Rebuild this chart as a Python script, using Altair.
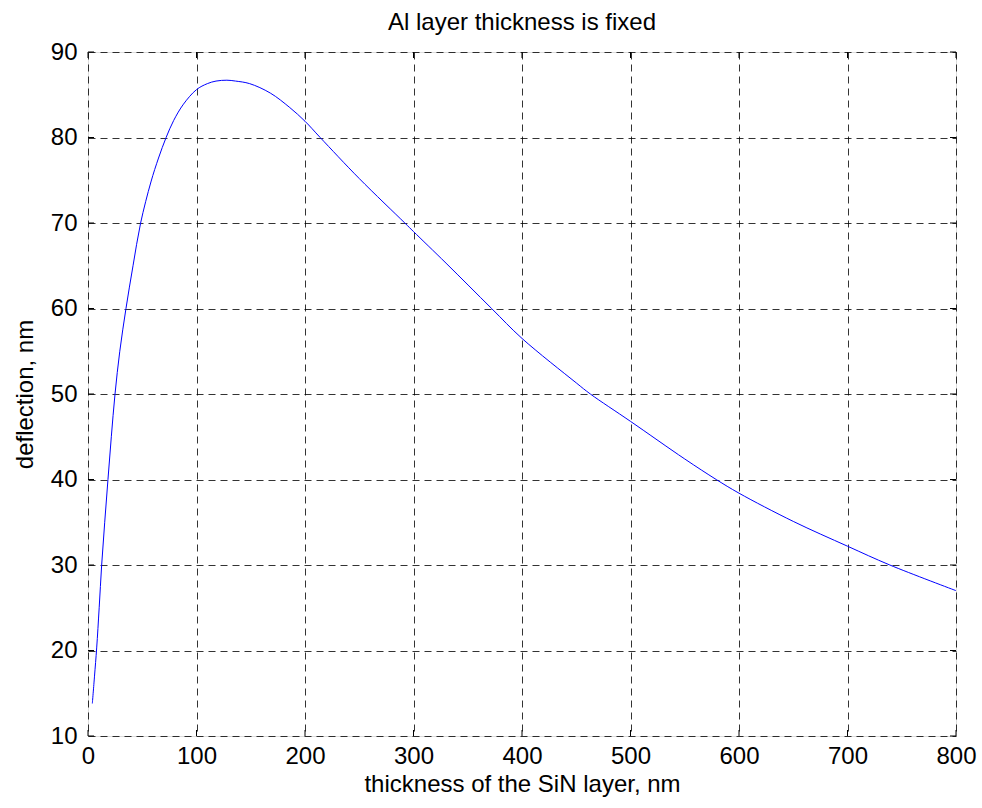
import altair as alt
import pandas as pd

# SiN layer thickness (nm) and resulting deflection (nm)
thickness = [4, 6, 8, 10.3, 12.6, 15.4, 18.4, 21.5, 24.9, 29.3, 35, 41.5, 48.5, 58,
             65, 72, 79, 88, 100, 110, 118, 128, 136, 149, 168, 186, 200, 214, 250,
             292, 300, 330, 372, 400, 450, 463, 500, 550, 579, 600, 650, 700, 739, 800]
deflection = [13.8, 17, 20.3, 25, 30, 35, 40, 45, 50, 55, 60, 65, 70, 74.8,
              77.6, 80, 82, 83.9, 85.6, 86.3, 86.6, 86.7, 86.6, 86.3, 85.2, 83.5, 81.9, 80, 75.2,
              70, 69.0, 65.3, 60, 56.5, 51.3, 50, 46.8, 42.4, 40, 38.4, 35.1, 32.2, 30, 27.0]

x_ticks = [0, 100, 200, 300, 400, 500, 600, 700, 800]
y_ticks = [10, 20, 30, 40, 50, 60, 70, 80, 90]

title_text = "Al layer thickness is fixed"
x_title = "thickness of the SiN layer, nm"
y_title = "deflection, nm"

FONT = "Liberation Sans"
FS = 24
W, H = 868, 684

df = pd.DataFrame({"thickness": thickness, "deflection": deflection})
xt = pd.DataFrame({"v": x_ticks})
yt = pd.DataFrame({"v": y_ticks})

xscale = alt.Scale(domain=[0, 800], nice=False, zero=False)
yscale = alt.Scale(domain=[10, 90], nice=False, zero=False)

line = alt.Chart(df).mark_line(color="#0000ff", strokeWidth=1, interpolate="catmull-rom").encode(
    x=alt.X("thickness:Q", scale=xscale,
            axis=alt.Axis(values=x_ticks, grid=True, gridDash=[7, 5], gridColor="#000000",
                          gridOpacity=0.8, gridWidth=1, ticks=False, domain=False,
                          labelFontSize=FS, labelFont=FONT, labelColor="#000000",
                          labelPadding=8, labelFlush=False,
                          title=x_title, titleFontSize=FS, titleFont=FONT,
                          titleFontWeight="normal", titleColor="#000000", titlePadding=4)),
    y=alt.Y("deflection:Q", scale=yscale,
            axis=alt.Axis(values=y_ticks, grid=True, gridDash=[7, 5], gridColor="#000000",
                          gridOpacity=0.8, gridWidth=1, ticks=False, domain=False,
                          labelFontSize=FS, labelFont=FONT, labelColor="#000000",
                          labelPadding=11, labelFlush=False,
                          title=y_title, titleFontSize=FS, titleFont=FONT,
                          titleFontWeight="normal", titleColor="#000000", titlePadding=13)),
)

tick_len = 6
xb = alt.Chart(xt).mark_rule(color="#000000", strokeWidth=1).encode(
    x=alt.X("v:Q", scale=xscale), y=alt.value(H), y2=alt.value(H - tick_len))
xtp = alt.Chart(xt).mark_rule(color="#000000", strokeWidth=1).encode(
    x=alt.X("v:Q", scale=xscale), y=alt.value(0), y2=alt.value(tick_len))
yl = alt.Chart(yt).mark_rule(color="#000000", strokeWidth=1).encode(
    y=alt.Y("v:Q", scale=yscale), x=alt.value(0), x2=alt.value(tick_len))
yr = alt.Chart(yt).mark_rule(color="#000000", strokeWidth=1).encode(
    y=alt.Y("v:Q", scale=yscale), x=alt.value(W), x2=alt.value(W - tick_len))

chart = alt.layer(line, xb, xtp, yl, yr).properties(
    width=W, height=H,
    title=alt.TitleParams(title_text, fontSize=FS, font=FONT, fontWeight="normal",
                          color="#000000", anchor="middle", offset=5),
    autosize=alt.AutoSizeParams(type="none"),
    padding={"left": 88, "top": 52, "right": 26, "bottom": 72},
).configure_view(stroke="#000000", strokeWidth=1).configure(background="white")

chart.save("out.html", embed_options={"renderer": "svg", "actions": False})
